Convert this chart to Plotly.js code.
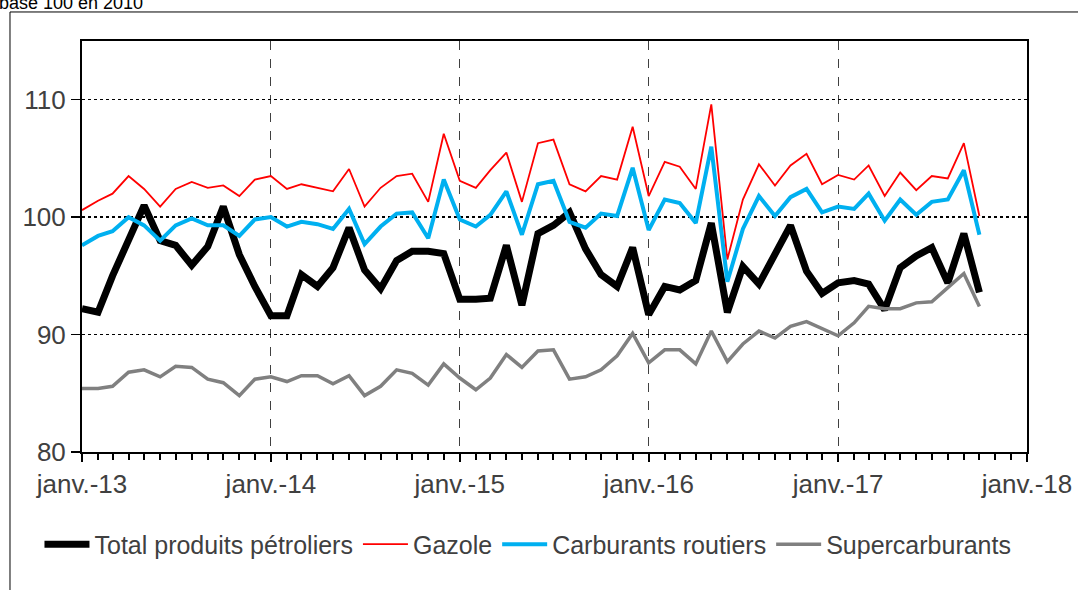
<!DOCTYPE html>
<html>
<head>
<meta charset="utf-8">
<script src="https://cdn.plot.ly/plotly-3.0.1.min.js"></script>
<style>
  html, body { margin: 0; padding: 0; background: #fff; }
  #chart { width: 1078px; height: 590px; }
</style>
</head>
<body>
<div id="chart"></div>
<script>
// months, janv. 2013 -> oct. 2017
var months = [
  "2013-01","2013-02","2013-03","2013-04","2013-05","2013-06","2013-07","2013-08","2013-09","2013-10","2013-11","2013-12",
  "2014-01","2014-02","2014-03","2014-04","2014-05","2014-06","2014-07","2014-08","2014-09","2014-10","2014-11","2014-12",
  "2015-01","2015-02","2015-03","2015-04","2015-05","2015-06","2015-07","2015-08","2015-09","2015-10","2015-11","2015-12",
  "2016-01","2016-02","2016-03","2016-04","2016-05","2016-06","2016-07","2016-08","2016-09","2016-10","2016-11","2016-12",
  "2017-01","2017-02","2017-03","2017-04","2017-05","2017-06","2017-07","2017-08","2017-09","2017-10"
];

var totalProduits = [
  92.2, 91.9, 95.0, 98.2, 101.0, 98.0, 97.6, 95.9, 97.5, 100.9, 96.8, 94.1,
  91.6, 91.6, 95.1, 94.1, 95.7, 99.1, 95.5, 93.9, 96.3, 97.1, 97.1, 96.9,
  93.0, 93.0, 93.1, 97.6, 92.5, 98.6, 99.3, 100.4, 97.3, 95.1, 94.1, 97.4,
  91.7, 94.1, 93.8, 94.6, 99.5, 91.9, 95.8, 94.3, 96.8, 99.3, 95.4, 93.5,
  94.4, 94.6, 94.3, 92.1, 95.7, 96.7, 97.4, 94.4, 98.6, 93.6
];

var gazole = [
  100.6, 101.4, 102.0, 103.5, 102.4, 100.9, 102.4, 103.0, 102.5, 102.7, 101.8, 103.2,
  103.5, 102.4, 102.8, 102.5, 102.2, 104.1, 100.9, 102.5, 103.5, 103.7, 101.3, 107.1,
  103.1, 102.5, 104.0, 105.5, 101.3, 106.3, 106.6, 102.8, 102.2, 103.5, 103.2, 107.7,
  101.8, 104.7, 104.3, 102.4, 109.6, 96.4, 101.5, 104.5, 102.7, 104.4, 105.4, 102.8,
  103.6, 103.2, 104.4, 101.8, 103.8, 102.3, 103.5, 103.3, 106.3, 100.1
];

var carburantsRoutiers = [
  97.6, 98.4, 98.8, 100.0, 99.3, 98.0, 99.3, 99.9, 99.3, 99.3, 98.4, 99.8,
  100.0, 99.2, 99.6, 99.4, 99.0, 100.7, 97.7, 99.2, 100.3, 100.4, 98.2, 103.2,
  99.8, 99.2, 100.2, 102.2, 98.5, 102.8, 103.1, 99.6, 99.1, 100.3, 100.1, 104.2,
  98.9, 101.5, 101.2, 99.5, 106.0, 94.5, 99.0, 101.8, 100.1, 101.7, 102.4, 100.4,
  100.9, 100.7, 102.0, 99.7, 101.5, 100.2, 101.3, 101.5, 104.0, 98.5
];

var supercarburants = [
  85.4, 85.4, 85.6, 86.8, 87.0, 86.4, 87.3, 87.2, 86.2, 85.9, 84.8, 86.2,
  86.4, 86.0, 86.5, 86.5, 85.8, 86.5, 84.8, 85.6, 87.0, 86.7, 85.7, 87.5,
  86.3, 85.3, 86.3, 88.3, 87.2, 88.6, 88.7, 86.2, 86.4, 87.0, 88.2, 90.1,
  87.6, 88.7, 88.7, 87.5, 90.3, 87.7, 89.2, 90.3, 89.7, 90.7, 91.1, 90.5,
  89.9, 91.0, 92.4, 92.2, 92.2, 92.7, 92.8, 94.0, 95.2, 92.4
];

var yTicks = [80, 90, 100, 110];

var font = "Liberation Sans, Arial, sans-serif";
var xRange = ["2013-01-01", "2018-01-01"];

var traces = [
  {x: months, y: totalProduits, name: "Total produits pétroliers", mode: "lines",
   line: {color: "#000000", width: 7}},
  {x: months, y: gazole, name: "Gazole", mode: "lines",
   line: {color: "#FF0000", width: 1.8}},
  {x: months, y: carburantsRoutiers, name: "Carburants routiers", mode: "lines",
   line: {color: "#00B0F0", width: 4}},
  // on x2 (same range) so that the monthly tick axis gets drawn
  {x: months, y: supercarburants, name: "Supercarburants", mode: "lines", xaxis: "x2",
   line: {color: "#808080", width: 3.5}}
];

var layout = {
  width: 1078,
  height: 590,
  margin: {l: 82, r: 51, t: 41, b: 138},
  paper_bgcolor: "#ffffff",
  plot_bgcolor: "#ffffff",
  font: {family: font, color: "#404040", size: 25},
  showlegend: true,
  legend: {
    orientation: "h",
    x: -0.045, xanchor: "left",
    y: -0.225, yanchor: "middle",
    font: {family: font, size: 25, color: "#404040"},
    itemwidth: 45,
    tracegroupgap: 0
  },
  xaxis: {
    type: "date",
    range: xRange,
    tick0: "2013-01-01",
    dtick: "M12",
    tickformat: "janv.-%y",
    ticks: "outside",
    ticklen: 8,
    tickwidth: 2,
    tickcolor: "#000",
    tickfont: {family: font, size: 26, color: "#404040"},
    showgrid: true,
    gridcolor: "#404040",
    gridwidth: 1,
    griddash: "dash",
    showline: true,
    linecolor: "#000",
    linewidth: 2,
    mirror: true,
    zeroline: false,
    fixedrange: true
  },
  // second axis only for the monthly tick marks
  xaxis2: {
    type: "date",
    range: xRange,
    overlaying: "x",
    anchor: "y",
    side: "bottom",
    tick0: "2013-01-01",
    dtick: "M1",
    ticks: "outside",
    ticklen: 7,
    tickwidth: 2,
    tickcolor: "#000",
    showticklabels: false,
    showgrid: false,
    showline: false,
    zeroline: false,
    fixedrange: true
  },
  yaxis: {
    range: [80, 115],
    tickmode: "array",
    tickvals: yTicks,
    ticks: "outside",
    ticklen: 9,
    tickwidth: 1.5,
    tickcolor: "#000",
    tickfont: {family: font, size: 26, color: "#404040"},
    showgrid: true,
    gridcolor: "#000",
    gridwidth: 1.5,
    griddash: "dot",
    showline: true,
    linecolor: "#000",
    linewidth: 2,
    mirror: true,
    zeroline: false,
    fixedrange: true
  },
  shapes: [
    {type: "rect", xref: "paper", yref: "paper",
     x0: -0.0762, x1: 1.2, y0: -0.4, y1: 1.0706,
     line: {color: "#000", width: 1}, fillcolor: "rgba(0,0,0,0)", layer: "below"}
  ],
  annotations: [
    {text: "base 100 en 2010", xref: "paper", yref: "paper",
     x: -0.09, xanchor: "left", y: 1.0633, yanchor: "bottom",
     showarrow: false, font: {family: font, size: 18, color: "#000"}}
  ]
};

Plotly.newPlot("chart", traces, layout, {displayModeBar: false, staticPlot: true});
</script>
</body>
</html>
